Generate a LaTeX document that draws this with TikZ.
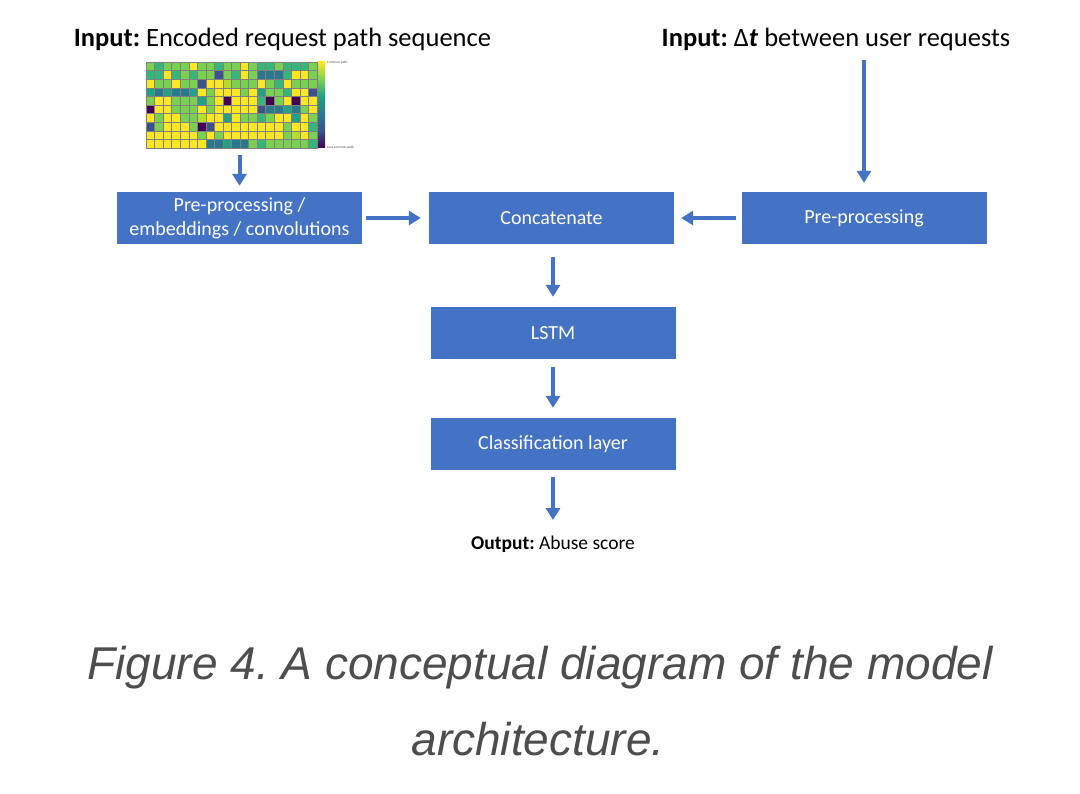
\documentclass[tikz,border=0pt]{standalone}
\usepackage{fontspec}
\setmainfont{Carlito}
\newfontfamily\capfont{Liberation Sans}
\usetikzlibrary{arrows.meta}
\frenchspacing

\definecolor{boxblue}{HTML}{4472C4}
\definecolor{capgray}{HTML}{4D4D4D}
% heatmap colours
\definecolor{hmY}{HTML}{FDE725}
\definecolor{hmL}{HTML}{B5DE2B}
\definecolor{hmG}{HTML}{7AD151}
\definecolor{hmT}{HTML}{35B779}
\definecolor{hmC}{HTML}{22A184}
\definecolor{hmB}{HTML}{2A788E}
\definecolor{hmD}{HTML}{3B528B}
\definecolor{hmP}{HTML}{440154}

\tikzset{
  block/.style={fill=boxblue, text=white, minimum width=245pt, minimum height=52pt,
    inner sep=0pt, align=center, font=\fontsize{20}{24}\selectfont},
  flow/.style={draw=boxblue, line width=4pt, -{Triangle[width=14pt,length=12pt]}},
  title/.style={inner sep=0pt, font=\fontsize{26.5}{30}\selectfont},
  cell/.style={draw=black!50, line width=.5pt},
  tiny/.style={inner sep=0pt, anchor=west, font=\fontsize{3.5}{4}\selectfont, text=black!70}
}

\begin{document}
\begin{tikzpicture}[x=1pt, y=-1pt]
		% draw background
		\fill[white] (0, 0) rectangle (1080, 794);
		% draw titles
		\node[title] (inpath) at (282.5, 39) {\textbf{Input:} Encoded request path sequence};
		\node[title] (indt) at (836, 39) {\textbf{Input:} Δ\textbf{\textit{t}} between user requests};
		% draw heatmap
		\foreach \cells [count=\r] in {
			{G,T,G,G,G,Y,G,G,T,G, G,Y,G,T,T,G,T,T,T,G},
			{T,T,Y,T,G,T,G,G,D,G, T,Y,G,B,B,B,T,Y,Y,G},
			{Y,G,G,Y,G,G,D,Y,Y,L, G,G,G,Y,G,T,Y,G,G,G},
			{C,B,C,B,B,C,Y,G,Y,Y, Y,G,Y,C,G,G,T,Y,Y,D},
			{G,Y,Y,G,G,G,C,G,Y,P, Y,Y,Y,T,P,G,Y,P,Y,Y},
			{P,Y,Y,G,G,G,Y,G,Y,Y, Y,Y,Y,D,B,B,C,B,G,Y},
			{Y,G,Y,Y,G,G,L,Y,Y,C, Y,G,G,T,G,Y,Y,C,Y,G},
			{D,G,Y,Y,Y,G,P,D,Y,Y, Y,Y,Y,Y,Y,Y,G,Y,Y,T},
			{Y,Y,Y,Y,Y,Y,G,Y,G,Y, Y,Y,Y,Y,Y,Y,G,L,Y,G},
			{Y,Y,Y,Y,Y,Y,Y,B,B,C, B,B,G,T,G,G,G,G,G,T}} {
			\foreach \c [count=\k] in \cells
				\filldraw[cell, fill=hm\c] ({146 + (\k - 1) * 8.55}, {62 + (\r - 1) * 8.6}) rectangle ++(8.55, 8.6);
		}
		% draw colour bar
		\shade[top color=hmY, bottom color=hmG] (318, 62) rectangle (325, 79.2);
		\shade[top color=hmG, bottom color=hmC] (318, 79.2) rectangle (325, 96.4);
		\shade[top color=hmC, bottom color=hmB] (318, 96.4) rectangle (325, 113.6);
		\shade[top color=hmB, bottom color=hmD] (318, 113.6) rectangle (325, 130.8);
		\shade[top color=hmD, bottom color=hmP] (318, 130.8) rectangle (325, 148);
		\node[tiny] (common) at (327, 63) {Common path};
		\node[tiny] (lesscommon) at (327, 148) {Less common path};
		\coordinate (heat) at (239.5, 155);
		% draw blocks
		\node[block] (prep) at (239.5, 218) {Pre-processing /\\embeddings / convolutions};
		\node[block] (concat) at (551.5, 218) {Concatenate};
		\node[block] (prepdt) at (864, 218) {Pre-processing};
		\node[block] (lstm) at (553, 333) {LSTM};
		\node[block] (classify) at (553, 444) {Classification layer};
		% draw output
		\node[inner sep=0pt, font=\fontsize{19.5}{23}\selectfont] (output) at (553, 544) {\textbf{Output:} Abuse score};
		\coordinate (dt) at (864, 60);
		\coordinate (out) at (553, 520);
		% draw arrows
		\draw[flow, shorten >=6pt] (heat) -- (prep.north);
		\draw[flow, shorten <=4pt, shorten >=8pt] (prep.east) -- (concat.west);
		\draw[flow, shorten >=9pt] (dt) -- (prepdt.north);
		\draw[flow, shorten <=5pt, shorten >=7pt] (prepdt.west) -- (concat.east);
		\draw[flow, shorten <=13pt, shorten >=10pt] (concat.south -| lstm) -- (lstm.north);
		\draw[flow, shorten <=8pt, shorten >=10pt] (lstm.south) -- (classify.north);
		\draw[flow, shorten <=7pt] (classify.south) -- (out);
		% draw caption
		\node[anchor=base, inner sep=0pt, text=capgray, font=\capfont\itshape\fontsize{46}{52}\selectfont] (cap) at (540, 679) {Figure 4. A conceptual diagram of the model};
		\node[anchor=base, inner sep=0pt, text=capgray, font=\capfont\itshape\fontsize{46}{52}\selectfont] (capend) at (538, 755) {architecture.};
	\end{tikzpicture}
\end{document}
